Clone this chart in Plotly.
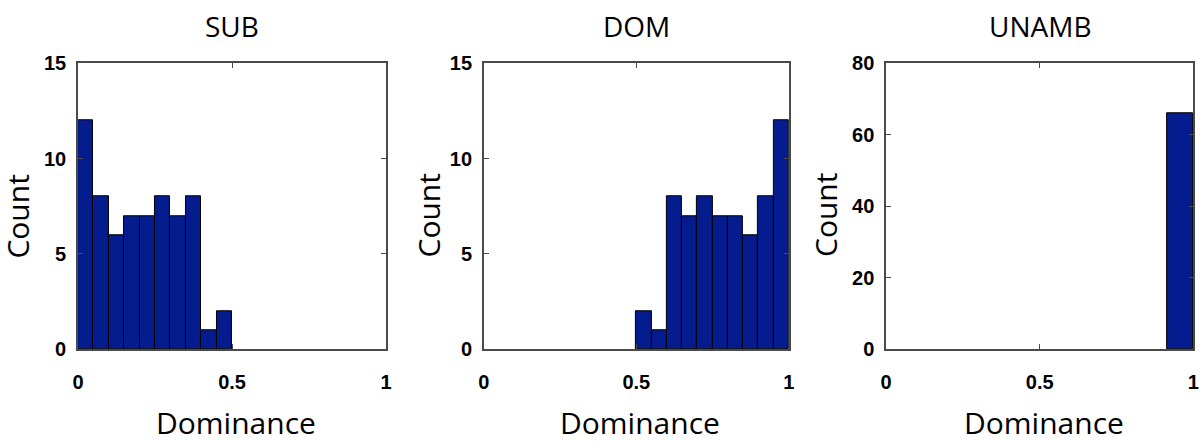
import plotly.graph_objects as go

W, H = 1203, 441

# ---- data ----
panel_titles = ["SUB", "DOM", "UNAMB"]
sub_bin_centers = [0.025, 0.075, 0.125, 0.175, 0.225, 0.275, 0.325, 0.375, 0.425, 0.475]
sub_counts = [12, 8, 6, 7, 7, 8, 7, 8, 1, 2]
dom_bin_centers = [0.525, 0.575, 0.625, 0.675, 0.725, 0.775, 0.825, 0.875, 0.925, 0.975]
dom_counts = [2, 1, 8, 7, 8, 7, 7, 6, 8, 12]
unamb_bin_centers = [0.958]
unamb_counts = [66]
unamb_bin_width = 0.084
hist_bin_width = 0.05
y_maxima = [15, 15, 80]
y_dticks = [5, 5, 20]
x_tickvals = [0, 0.5, 1]
x_ticktext = ["0", "0.5", "1"]
x_label = "Dominance"
y_label = "Count"

BAR_COLOR = "rgb(4,28,142)"
AXIS_COLOR = "#4a4a4a"

# pixel layout
x_domains_px = [(72.7, 384.0), (482.7, 790.7), (889.0, 1199.3)]
y_domain_px = (55.0, 356.0)
count_label_px = [(11.5, 216), (426.5, 215), (828, 215)]
title_y_px = 16
xlabel_y_px = 433


def pxx(v):
    return v / W


def pxy(v):
    return 1 - v / H


fig = go.Figure()
series = [
    (sub_bin_centers, sub_counts, hist_bin_width),
    (dom_bin_centers, dom_counts, hist_bin_width),
    (unamb_bin_centers, unamb_counts, unamb_bin_width),
]

annotations = []
for i, (xs, ys, wd) in enumerate(series):
    sfx = "" if i == 0 else str(i + 1)
    fig.add_trace(go.Bar(
        x=xs, y=ys, width=wd,
        marker=dict(color=BAR_COLOR, line=dict(color="black", width=1)),
        xaxis="x" + sfx, yaxis="y" + sfx, showlegend=False,
    ))
    x0, x1 = x_domains_px[i]
    common = dict(
        showline=True, linecolor=AXIS_COLOR, linewidth=1.6, mirror="ticks",
        ticks="inside", ticklen=5, tickwidth=1.2, tickcolor=AXIS_COLOR,
        showgrid=False, zeroline=False,
        tickfont=dict(family="Liberation Sans, Arial", size=20, color="black", weight="bold"),
    )
    fig.update_layout(**{
        "xaxis" + sfx: dict(
            domain=[pxx(x0), pxx(x1)], range=[0, 1], anchor="y" + sfx,
            tickvals=x_tickvals, ticktext=x_ticktext, ticklabelstandoff=14,
            **common),
        "yaxis" + sfx: dict(
            domain=[pxy(y_domain_px[1]), pxy(y_domain_px[0])],
            range=[0, y_maxima[i]], dtick=y_dticks[i], anchor="x" + sfx,
            ticklabelstandoff=6, **common),
    })
    cx = (x0 + x1) / 2
    annotations.append(dict(
        text=panel_titles[i], x=pxx(cx), y=pxy(title_y_px), xref="paper", yref="paper",
        xanchor="center", yanchor="middle", showarrow=False,
        font=dict(family="Open Sans", size=28, color="black")))
    annotations.append(dict(
        text=x_label, x=pxx(cx + 4), y=pxy(xlabel_y_px), xref="paper", yref="paper",
        xanchor="center", yanchor="middle", showarrow=False,
        font=dict(family="Open Sans", size=30, color="black")))
    lx, ly = count_label_px[i]
    annotations.append(dict(
        text=y_label, x=pxx(lx), y=pxy(ly), xref="paper", yref="paper",
        xanchor="center", yanchor="middle", showarrow=False, textangle=-90,
        font=dict(family="Open Sans", size=30, color="black")))

fig.update_layout(
    width=W, height=H,
    margin=dict(l=0, r=0, t=0, b=0),
    paper_bgcolor="white", plot_bgcolor="white",
    bargap=0, annotations=annotations,
)

fig.write_html("out.html")
